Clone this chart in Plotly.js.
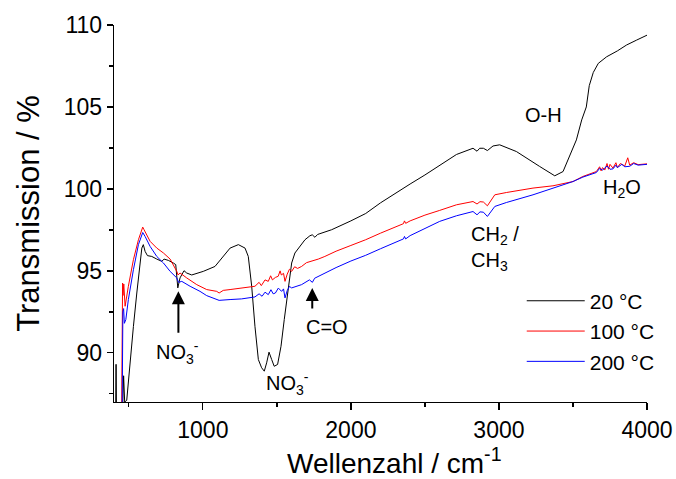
<!DOCTYPE html>
<html>
<head>
<meta charset="utf-8">
<script src="https://cdn.plot.ly/plotly-3.0.1.min.js"></script>
<style>html,body{margin:0;padding:0;background:#fff;}#chart{width:676px;height:479px;}</style>
</head>
<body>
<div id="chart"></div>
<script>
// Wavenumbers (cm^-1) and transmission (%) per temperature series
const wn20 = [411, 414, 417, 440, 458, 465, 472, 486, 509, 531, 554, 576, 588, 598, 610, 626, 655, 689, 723, 738, 767, 801, 817, 831, 846, 873, 891, 925, 1003, 1082, 1138, 1184, 1240, 1285, 1307, 1330, 1352, 1375, 1397, 1415, 1431, 1447, 1465, 1482, 1505, 1528, 1550, 1577, 1600, 1622, 1656, 1690, 1723, 1739, 1757, 1775, 1791, 1870, 2000, 2100, 2200, 2300, 2400, 2500, 2600, 2713, 2825, 2852, 2870, 2895, 2922, 2960, 3005, 3118, 3275, 3377, 3433, 3478, 3523, 3559, 3590, 3610, 3637, 3671, 3727, 3800, 3862, 3930, 4000];
const t20 = [86.0, 89.3, 86.0, 86.0, 86.5, 88.6, 87.0, 87.1, 89.6, 91.6, 93.65, 95.5, 96.39, 96.6, 96.19, 95.93, 95.88, 95.72, 95.58, 95.72, 95.64, 95.48, 95.38, 93.96, 94.57, 95.01, 94.87, 94.75, 94.97, 95.27, 95.88, 96.39, 96.6, 96.39, 95.88, 94.06, 91.62, 89.59, 89.09, 88.88, 89.39, 90.04, 89.59, 89.18, 89.29, 90.4, 92.03, 94.06, 95.48, 96.09, 96.49, 96.9, 97.14, 97.2, 97.05, 97.22, 97.27, 97.51, 98.05, 98.5, 99.15, 99.75, 100.3, 100.85, 101.42, 102.1, 102.48, 102.3, 102.48, 102.48, 102.34, 102.62, 102.69, 102.28, 101.37, 100.8, 101.06, 101.97, 102.99, 104.21, 105.0, 106.3, 107.1, 107.66, 108.06, 108.42, 108.78, 109.08, 109.38];

const wn100 = [441, 452, 458, 461, 466, 475, 497, 531, 565, 594, 603, 644, 689, 734, 779, 810, 824, 833, 846, 891, 959, 1026, 1094, 1110, 1138, 1184, 1262, 1300, 1352, 1380, 1395, 1420, 1442, 1458, 1470, 1490, 1509, 1522, 1530, 1545, 1555, 1570, 1585, 1600, 1620, 1640, 1667, 1700, 1735, 1780, 1824, 1900, 2000, 2100, 2200, 2300, 2355, 2362, 2370, 2400, 2500, 2600, 2713, 2825, 2852, 2872, 2895, 2922, 2972, 3050, 3230, 3365, 3500, 3567, 3620, 3658, 3680, 3690, 3700, 3715, 3730, 3740, 3750, 3770, 3790, 3800, 3820, 3850, 3870, 3883, 3910, 3940, 4000];
const t100 = [86.0, 87.0, 94.26, 93.5, 94.2, 92.84, 94.06, 95.68, 96.9, 97.67, 97.51, 96.8, 96.39, 96.09, 95.72, 95.25, 94.97, 94.75, 94.87, 94.57, 94.16, 93.86, 93.75, 93.65, 93.81, 93.86, 93.96, 94.0, 94.06, 94.3, 94.1, 94.45, 94.36, 94.7, 94.45, 94.6, 94.67, 95.0, 94.75, 94.85, 94.36, 94.8, 95.1, 94.97, 95.25, 95.15, 95.27, 95.5, 95.58, 95.72, 95.88, 96.2, 96.55, 96.9, 97.3, 97.7, 97.88, 98.05, 97.9, 98.05, 98.4, 98.69, 99.03, 99.23, 99.08, 99.22, 99.2, 98.97, 99.64, 99.78, 100.05, 100.19, 100.45, 100.76, 100.95, 101.06, 101.35, 101.1, 101.3, 101.15, 101.55, 101.2, 101.5, 101.27, 101.6, 101.3, 101.55, 101.4, 101.9, 101.45, 101.6, 101.48, 101.53];

const wn200 = [445, 455, 460, 465, 470, 480, 497, 531, 565, 594, 610, 644, 689, 734, 779, 824, 836, 858, 914, 981, 1026, 1094, 1110, 1184, 1262, 1352, 1380, 1400, 1420, 1442, 1460, 1475, 1490, 1510, 1532, 1545, 1555, 1570, 1585, 1600, 1667, 1720, 1740, 1755, 1824, 1900, 2000, 2100, 2200, 2300, 2355, 2362, 2370, 2400, 2500, 2600, 2713, 2825, 2852, 2872, 2895, 2922, 2972, 3050, 3230, 3365, 3500, 3567, 3620, 3658, 3680, 3700, 3730, 3750, 3770, 3790, 3800, 3830, 3850, 3883, 3910, 3940, 4000];
const t200 = [86.0, 86.5, 92.5, 92.7, 91.8, 92.03, 93.25, 95.07, 96.6, 97.34, 97.1, 96.49, 95.88, 95.48, 94.97, 94.57, 94.3, 94.36, 94.06, 93.75, 93.49, 93.29, 93.2, 93.25, 93.29, 93.41, 93.6, 93.45, 93.7, 93.55, 93.85, 93.6, 93.65, 93.95, 93.75, 93.9, 93.35, 93.8, 94.05, 93.96, 94.16, 94.45, 94.3, 94.55, 94.87, 95.2, 95.6, 95.95, 96.35, 96.75, 96.95, 97.1, 96.95, 97.15, 97.6, 98.02, 98.36, 98.62, 98.42, 98.6, 98.58, 98.32, 98.93, 99.17, 99.64, 100.05, 100.45, 100.72, 100.9, 101.0, 101.25, 101.15, 101.4, 101.2, 101.22, 101.45, 101.3, 101.5, 101.35, 101.38, 101.55, 101.45, 101.5];

const seriesNames = ["20 °C", "100 °C", "200 °C"];
const seriesColors = ["#000000", "#ff0000", "#0000ff"];
const xTitle = "Wellenzahl / cm<sup>-1</sup>";
const yTitle = "Transmission / %";

const FONT = "Liberation Sans, Arial, sans-serif";

const traces = [
  {x: wn20, y: t20, name: seriesNames[0]},
  {x: wn100, y: t100, name: seriesNames[1]},
  {x: wn200, y: t200, name: seriesNames[2]}
].map((t, i) => Object.assign(t, {
  type: "scatter", mode: "lines",
  line: {color: seriesColors[i], width: 1}
}));

const annFont = {family: FONT, size: 20, color: "#000"};
const annotations = [
  {x: 3300, y: 104.5, text: "O-H", showarrow: false},
  {x: 3829, y: 100.0, text: "H<sub>2</sub>O", showarrow: false},
  {x: 2795, y: 96.35, text: "CH<sub>2</sub> /<br>CH<sub>3</sub>", showarrow: false, xanchor: "left", align: "left"},
  {x: 1841, y: 91.6, text: "C=O", showarrow: false},
  {x: 829, y: 90.0, text: "NO<sub>3</sub><sup>-</sup>", showarrow: false},
  {x: 1571, y: 88.15, text: "NO<sub>3</sub><sup>-</sup>", showarrow: false},
  {x: 835, y: 93.75, text: "", showarrow: true, ax: 0, ay: 43, arrowhead: 2, arrowsize: 1.3, arrowwidth: 2, arrowcolor: "#000"},
  {x: 1739, y: 93.96, text: "", showarrow: true, ax: 0, ay: 22, arrowhead: 2, arrowsize: 1.3, arrowwidth: 2, arrowcolor: "#000"}
].map(a => Object.assign({font: annFont, xref: "x", yref: "y"}, a));

// x-axis title placed as a paper annotation so it can sit slightly right of centre, as in the original
annotations.push({
  xref: "paper", yref: "paper", x: 0.527, y: 0, xanchor: "center", yanchor: "top", yshift: -40,
  text: xTitle, showarrow: false, borderpad: 0, font: {family: FONT, size: 28, color: "#000"}
});

const layout = {
  width: 676, height: 479,
  margin: {l: 114, r: 29, t: 25, b: 77},
  paper_bgcolor: "#fff", plot_bgcolor: "#fff",
  font: {family: FONT, color: "#000"},
  showlegend: true,
  legend: {x: 0.765, y: 0.322, xanchor: "left", yanchor: "top", bgcolor: "rgba(0,0,0,0)",
           font: {family: FONT, size: 21, color: "#000"}, itemwidth: 58},
  xaxis: {
    range: [400, 4000], tick0: 0, dtick: 1000, showgrid: false, zeroline: false,
    showline: true, linecolor: "#000", linewidth: 1.3, mirror: false,
    ticks: "outside", ticklen: 7, tickwidth: 1.3, tickcolor: "#000",
    tickfont: {family: FONT, size: 23, color: "#000"},
    minor: {ticks: "outside", ticklen: 4, tickwidth: 1.3, tickcolor: "#000", dtick: 500, tick0: 0, showgrid: false}
  },
  yaxis: {
    range: [87, 110], tick0: 0, dtick: 5, showgrid: false, zeroline: false,
    showline: true, linecolor: "#000", linewidth: 1.3, mirror: false,
    ticks: "outside", ticklen: 6, tickwidth: 1.3, tickcolor: "#000",
    tickfont: {family: FONT, size: 23, color: "#000"},
    minor: {ticks: "outside", ticklen: 4, tickwidth: 1.3, tickcolor: "#000", dtick: 2.5, tick0: 0, showgrid: false},
    title: {text: yTitle, font: {family: FONT, size: 31, color: "#000"}, standoff: 15}
  },
  annotations: annotations
};

Plotly.newPlot("chart", traces, layout, {displayModeBar: false, staticPlot: true});
</script>
</body>
</html>
